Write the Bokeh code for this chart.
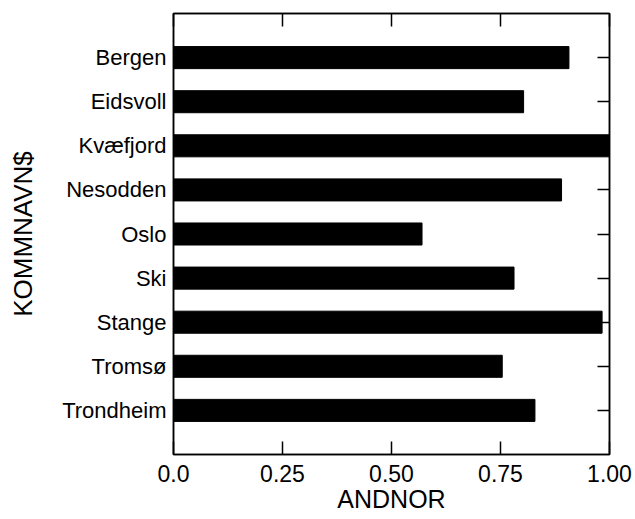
from bokeh.plotting import figure
from bokeh.models import (ColumnDataSource, FactorRange, Range1d, LinearAxis,
                          CategoricalAxis, FixedTicker, CustomLabelingPolicy)
from bokeh.embed import file_html
from bokeh.resources import INLINE

# Share of Norwegian-born (ANDNOR) per municipality
kommuner = ["Bergen", "Eidsvoll", "Kvæfjord", "Nesodden", "Oslo",
            "Ski", "Stange", "Tromsø", "Trondheim"]
andnor = [0.907, 0.803, 1.00, 0.890, 0.570, 0.781, 0.983, 0.754, 0.829]

x_ticks = [0.0, 0.25, 0.5, 0.75, 1.0]
x_tick_labels = ["0.0", "0.25", "0.50", "0.75", "1.00"]

FONT = "Liberation Sans"

source = ColumnDataSource(data=dict(kommune=kommuner, andnor=andnor))

p = figure(
    width=635, height=519,
    y_range=FactorRange(*reversed(kommuner), range_padding=1 / 9),
    x_range=Range1d(0, 1),
    output_backend="svg", toolbar_location=None,
    min_border_left=173, min_border_right=26,
    min_border_top=13, min_border_bottom=65,
)

p.hbar(y="kommune", right="andnor", left=0, height=0.5, source=source,
       fill_color="black", line_color="black")

p.grid.visible = False
p.background_fill_color = "white"
p.border_fill_color = "white"
p.outline_line_color = "black"
p.outline_line_width = 1.5

tick_overrides = {t: lab for t, lab in zip(x_ticks, x_tick_labels)}

# bottom axis
xa = p.xaxis[0]
xa.ticker = FixedTicker(ticks=x_ticks)
xa.major_label_overrides = tick_overrides
xa.major_tick_in = 13
xa.major_tick_out = 0
xa.minor_tick_line_color = None
xa.axis_line_color = "black"
xa.axis_line_width = 1.5
xa.major_tick_line_width = 1.5
xa.major_label_text_font = FONT
xa.major_label_text_font_size = "23px"
xa.major_label_text_color = "black"
xa.major_label_standoff = 10
xa.axis_label = "ANDNOR"
xa.axis_label_text_font = FONT
xa.axis_label_text_font_size = "25px"
xa.axis_label_text_font_style = "normal"
xa.axis_label_text_color = "black"
xa.axis_label_standoff = 0

# left axis
ya = p.yaxis[0]
ya.major_tick_in = 0
ya.major_tick_out = 0
ya.axis_line_color = "black"
ya.axis_line_width = 1.5
ya.major_label_text_font = FONT
ya.major_label_text_font_size = "22px"
ya.major_label_text_color = "black"
ya.major_label_standoff = 7
ya.axis_label = "KOMMNAVN$"
ya.axis_label_text_font = FONT
ya.axis_label_text_font_size = "26px"
ya.axis_label_text_font_style = "normal"
ya.axis_label_text_color = "black"
ya.axis_label_standoff = 21

# mirrored tick marks on the top and right edges, without labels
no_labels = CustomLabelingPolicy(code="return []")

top = LinearAxis(ticker=FixedTicker(ticks=x_ticks),
                 major_tick_in=13, major_tick_out=0,
                 minor_tick_line_color=None,
                 major_label_policy=no_labels,
                 major_label_text_font_size="1px", major_label_standoff=0,
                 axis_line_color="black", axis_line_width=1.5,
                 major_tick_line_width=1.5)
p.add_layout(top, "above")

right = CategoricalAxis(major_tick_in=12, major_tick_out=0,
                        major_label_policy=no_labels,
                        major_label_text_font_size="1px", major_label_standoff=0,
                        axis_line_color="black", axis_line_width=1.5,
                        major_tick_line_width=1.5)
p.add_layout(right, "right")

open("out.html", "w").write(file_html(p, INLINE))
